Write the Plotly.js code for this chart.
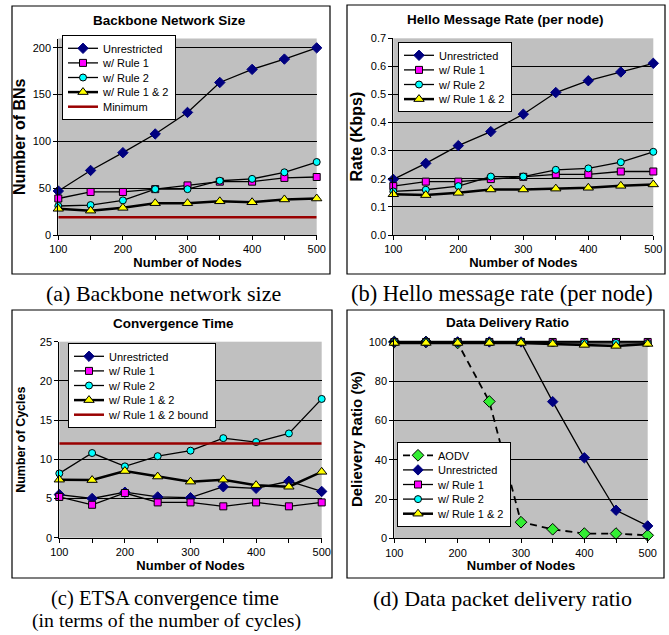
<!DOCTYPE html>
<html>
<head>
<meta charset="utf-8">
<script src="https://cdn.plot.ly/plotly-3.0.1.min.js"></script>
<style>
html,body{margin:0;padding:0;background:#fff;}
#chart{width:669px;height:635px;}
</style>
</head>
<body>
<div id="chart"></div>
<script>
// ---------- data ----------
var nodes = [100, 150, 200, 250, 300, 350, 400, 450, 500];
var xTickText = ['100', '', '200', '', '300', '', '400', '', '500'];

// (a) Backbone network size
var bnUnrestricted = [47, 69, 88, 108, 131, 163, 177, 188, 200];
var bnRule1 = [39, 46, 46, 49, 53, 57, 57, 61, 62];
var bnRule2 = [31, 32, 37, 49, 49, 58, 60, 67, 78];
var bnRule12 = [28, 26, 29, 34, 34, 36, 35, 38, 39];
var bnMinimum = [19, 19, 19, 19, 19, 19, 19, 19, 19];

// (b) Hello message rate (Kbps)
var helloUnrestricted = [0.198, 0.255, 0.318, 0.368, 0.430, 0.507, 0.549, 0.580, 0.611];
var helloRule1 = [0.174, 0.190, 0.190, 0.199, 0.207, 0.216, 0.216, 0.226, 0.226];
var helloRule2 = [0.155, 0.161, 0.174, 0.208, 0.208, 0.232, 0.237, 0.259, 0.296];
var helloRule12 = [0.145, 0.142, 0.150, 0.162, 0.162, 0.165, 0.168, 0.175, 0.180];

// (c) Convergence time (cycles)
var convUnrestricted = [5.5, 5.0, 5.8, 5.2, 5.1, 6.5, 6.3, 7.2, 5.9];
var convRule1 = [5.2, 4.2, 5.7, 4.5, 4.5, 4.0, 4.5, 4.0, 4.5];
var convRule2 = [8.2, 10.8, 9.1, 10.4, 11.1, 12.7, 12.2, 13.3, 17.7];
var convRule12 = [7.4, 7.35, 8.5, 7.8, 7.15, 7.4, 6.7, 6.5, 8.4];
var convBound = [12, 12, 12, 12, 12, 12, 12, 12, 12];

// (d) Data delivery ratio (%)
var ddrAODV = [100, 100, 99.5, 69.7, 8.2, 4.6, 2.4, 2.4, 1.5];
var ddrUnrestricted = [100, 100, 100, 100, 100, 69.6, 41, 14.3, 6.3];
var ddrRule1 = [100, 100, 100, 100, 100, 100, 100, 100, 100];
var ddrRule2 = [100, 100, 100, 100, 100, 99.5, 99.5, 99.5, 99.5];
var ddrRule12 = [99.5, 99.5, 99.5, 99.5, 99.5, 99, 98.5, 98, 99];

// ---------- helpers ----------
var W = 669, H = 635;
function px(x) { return x / W; }
function py(y) { return 1 - y / H; }
var SANS = 'Liberation Sans, Arial, sans-serif';
var SERIF = 'Liberation Serif, Times New Roman, serif';

var C_UNR = '#000080', C_R1 = '#FF00FF', C_R2 = '#00FFFF', C_R12 = '#FFFF00', C_AODV = '#33EE33', C_MIN = '#990000';

function unr(y, xa, ya, lg) {
  return {x: nodes, y: y, xaxis: xa, yaxis: ya, legend: lg, name: 'Unrestricted',
    mode: 'lines+markers', cliponaxis: false, line: {color: '#000', width: 1.3},
    marker: {symbol: 'diamond', size: 8, color: C_UNR, line: {color: C_UNR, width: 1}}};
}
function r1(y, xa, ya, lg) {
  return {x: nodes, y: y, xaxis: xa, yaxis: ya, legend: lg, name: 'w/ Rule 1',
    mode: 'lines+markers', cliponaxis: false, line: {color: '#000', width: 1.3},
    marker: {symbol: 'square', size: 7, color: C_R1, line: {color: '#000', width: 1}}};
}
function r2(y, xa, ya, lg) {
  return {x: nodes, y: y, xaxis: xa, yaxis: ya, legend: lg, name: 'w/ Rule 2',
    mode: 'lines+markers', cliponaxis: false, line: {color: '#000', width: 1.3},
    marker: {symbol: 'circle', size: 7, color: C_R2, line: {color: '#000', width: 1}}};
}
function r12(y, xa, ya, lg) {
  return {x: nodes, y: y, xaxis: xa, yaxis: ya, legend: lg, name: 'w/ Rule 1 & 2',
    mode: 'lines+markers', cliponaxis: false, line: {color: '#000', width: 2.5},
    marker: {symbol: 'triangle-up', size: 9, color: C_R12, line: {color: '#000', width: 1}}};
}
function hline(y, xa, ya, lg, name) {
  return {x: nodes, y: y, xaxis: xa, yaxis: ya, legend: lg, name: name,
    mode: 'lines', line: {color: C_MIN, width: 2.5}};
}

var traces = [
  unr(bnUnrestricted, 'x', 'y', 'legend'),
  r1(bnRule1, 'x', 'y', 'legend'),
  r2(bnRule2, 'x', 'y', 'legend'),
  r12(bnRule12, 'x', 'y', 'legend'),
  hline(bnMinimum, 'x', 'y', 'legend', 'Minimum'),

  unr(helloUnrestricted, 'x2', 'y2', 'legend2'),
  r1(helloRule1, 'x2', 'y2', 'legend2'),
  r2(helloRule2, 'x2', 'y2', 'legend2'),
  r12(helloRule12, 'x2', 'y2', 'legend2'),

  unr(convUnrestricted, 'x3', 'y3', 'legend3'),
  r1(convRule1, 'x3', 'y3', 'legend3'),
  r2(convRule2, 'x3', 'y3', 'legend3'),
  r12(convRule12, 'x3', 'y3', 'legend3'),
  hline(convBound, 'x3', 'y3', 'legend3', 'w/ Rule 1 & 2 bound'),

  {x: nodes, y: ddrAODV, xaxis: 'x4', yaxis: 'y4', legend: 'legend4', name: 'AODV',
    mode: 'lines+markers', cliponaxis: false, line: {color: '#000', width: 1.8, dash: '7px,5px'},
    marker: {symbol: 'diamond', size: 9, color: C_AODV, line: {color: '#000', width: 1}}},
  unr(ddrUnrestricted, 'x4', 'y4', 'legend4'),
  r1(ddrRule1, 'x4', 'y4', 'legend4'),
  r2(ddrRule2, 'x4', 'y4', 'legend4'),
  r12(ddrRule12, 'x4', 'y4', 'legend4')
];

function xAxis(x0, x1, anchor, standoff) {
  return {domain: [px(x0), px(x1)], anchor: anchor, range: [100, 500],
    tickvals: nodes, ticktext: xTickText, ticks: 'outside', ticklen: 4, tickcolor: '#000', tickwidth: 1,
    showline: true, linecolor: '#000', linewidth: 1, showgrid: false, zeroline: false,
    tickfont: {family: SANS, size: 11, color: '#000'},
    title: {text: 'Number of Nodes', standoff: standoff, font: {family: SANS, size: 13, color: '#000', weight: 'bold'}}};
}
function yAxis(top, bottom, anchor, range, dtick, fmt, title, tsize, standoff) {
  return {domain: [py(bottom), py(top)], anchor: anchor, range: range, dtick: dtick, tick0: 0, tickformat: fmt,
    ticks: 'outside', ticklen: 4, tickcolor: '#000', tickwidth: 1,
    showline: true, linecolor: '#000', linewidth: 1, showgrid: true, gridcolor: '#000', gridwidth: 1, zeroline: false,
    tickfont: {family: SANS, size: 11, color: '#000'},
    title: {text: title, standoff: standoff, font: {family: SANS, size: tsize, color: '#000', weight: 'bold'}}};
}
function legendAt(x, y, yanchor) {
  return {x: px(x), y: py(y), xanchor: 'left', yanchor: yanchor || 'top', bgcolor: '#fff',
    bordercolor: '#000', borderwidth: 1, font: {family: SANS, size: 11, color: '#000'}, traceorder: 'normal'};
}
function frame(x0, y0, x1, y1) {
  return {type: 'rect', xref: 'paper', yref: 'paper', x0: px(x0), x1: px(x1), y0: py(y1), y1: py(y0),
    line: {color: '#000', width: 1.2}, fillcolor: 'rgba(0,0,0,0)', layer: 'above'};
}
function label(text, x, y, size, bold, family) {
  return {text: text, xref: 'paper', yref: 'paper', x: px(x), y: py(y), xanchor: 'center', yanchor: 'middle',
    showarrow: false, font: {family: family || SANS, size: size, color: '#000', weight: bold ? 'bold' : 'normal'}};
}

var layout = {
  width: W, height: H, margin: {l: 0, r: 0, t: 0, b: 0},
  paper_bgcolor: '#fff', plot_bgcolor: '#C0C0C0',
  xaxis: xAxis(58.3, 316.7, 'y', 2),
  yaxis: yAxis(38.5, 235, 'x', [0, 210], 50, 'd', 'Number of BNs', 16, 3),
  xaxis2: xAxis(393.3, 653.3, 'y2', 2),
  yaxis2: yAxis(38.3, 235, 'x2', [0, 0.7], 0.1, '.1f', 'Rate (Kbps)', 16, 4),
  xaxis3: xAxis(59.3, 321.7, 'y3', 2),
  yaxis3: yAxis(341.7, 537.7, 'x3', [0, 25], 5, 'd', 'Number of Cycles', 12.5, 11),
  xaxis4: xAxis(394.3, 647.7, 'y4', 2),
  yaxis4: yAxis(340, 538.3, 'x4', [0, 101], 20, 'd', 'Delievery Ratio (%)', 15, 2),
  legend: legendAt(62, 35),
  legend2: legendAt(398, 42),
  legend3: legendAt(68, 343),
  legend4: legendAt(397, 527, 'bottom'),
  shapes: [
    frame(12, 6, 330, 274),
    frame(347, 5, 665, 274),
    frame(12, 310, 332, 578),
    frame(347, 310, 664, 578)
  ],
  annotations: [
    label('Backbone Network Size', 169, 21, 13.5, true),
    label('Hello Message Rate (per node)', 505, 20, 13.5, true),
    label('Convergence Time', 174, 323, 13.5, true),
    label('Data Delivery Ratio', 507, 322, 13.5, true),
    label('(a) Backbone network size', 163, 293, 22, false, SERIF),
    label('(b) Hello message rate (per node)', 502, 293, 22.5, false, SERIF),
    label('(c) ETSA convergence time', 165, 598, 20.5, false, SERIF),
    label('(in terms of the number of cycles)', 166, 620, 19.8, false, SERIF),
    label('(d) Data packet delivery ratio', 502, 598, 22, false, SERIF)
  ]
};

// compact legend rows (reference rows are ~14.6 px apart)
var ROW = 14.6;
function compactLegends(gd) {
  ['legend', 'legend2', 'legend3', 'legend4'].forEach(function (id) {
    var lg = gd.querySelector('g.' + id);
    if (!lg) return;
    var items = lg.querySelectorAll('g.traces');
    var n = items.length;
    if (n < 2) return;
    var xs = [], ys = [];
    items.forEach(function (it) {
      var m = /translate\(\s*([-\d.e]+)[ ,]+([-\d.e]+)/.exec(it.getAttribute('transform') || '');
      xs.push(m ? +m[1] : 0); ys.push(m ? +m[2] : 0);
    });
    var oldRow = (ys[n - 1] - ys[0]) / (n - 1);
    var d = oldRow - ROW;
    if (d <= 0) return;
    items.forEach(function (it, i) {
      it.setAttribute('transform', 'translate(' + xs[i] + ',' + (ys[0] - d / 2 + i * ROW) + ')');
    });
    var bg = lg.querySelector('rect.bg');
    var shrink = d * n;
    if (bg) {
      var h = parseFloat(bg.getAttribute('height'));
      bg.setAttribute('height', h - shrink);
    }
    if (layout[id].yanchor === 'bottom') {
      var m2 = /translate\(\s*([-\d.e]+)[ ,]+([-\d.e]+)/.exec(lg.getAttribute('transform') || '');
      if (m2) lg.setAttribute('transform', 'translate(' + m2[1] + ',' + (+m2[2] + shrink) + ')');
    }
  });
}

var gd = document.getElementById('chart');
Plotly.newPlot(gd, traces, layout, {staticPlot: true, displayModeBar: false}).then(function () {
  compactLegends(gd);
});
</script>
</body>
</html>
